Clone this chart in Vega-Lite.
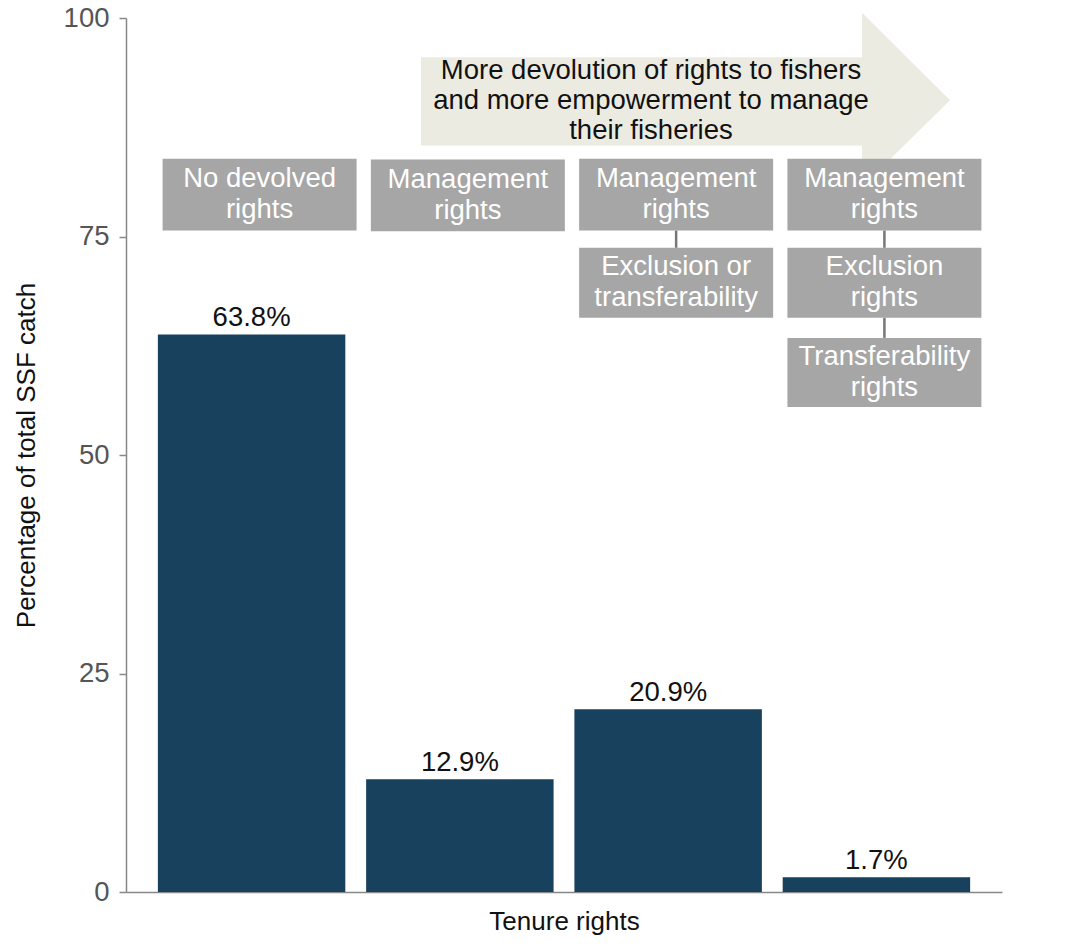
{
  "$schema": "https://vega.github.io/schema/vega-lite/v6.json",
  "description": "Share of small-scale fisheries catch by tenure rights",
  "width": 876,
  "height": 874,
  "autosize": "none",
  "padding": {"left": 126, "top": 18, "right": 78, "bottom": 55},
  "config": {
    "view": {"stroke": null},
    "font": "Liberation Sans",
    "axis": {"grid": false, "domainColor": "#888888", "tickColor": "#888888", "domainWidth": 1.5, "tickWidth": 1.5},
    "axisY": {"labelFontSize": 27.5, "labelColor": "#555555", "titleFontSize": 26, "titleFontWeight": "normal", "titleColor": "#111111", "tickSize": 7, "labelPadding": 10, "titlePadding": 24},
    "axisX": {"titleFontSize": 26, "titleFontWeight": "normal", "titleColor": "#111111", "titlePadding": 16}
  },
  "datasets": {
    "catch": [
      {"tenure": "No devolved rights", "share": 63.8},
      {"tenure": "Management rights", "share": 12.9},
      {"tenure": "Management and exclusion or transferability rights", "share": 20.9},
      {"tenure": "Management, exclusion and transferability rights", "share": 1.7}
    ],
    "boxes": [
      {"tenure": "No devolved rights", "label": "No devolved\nrights", "top": 83.9, "bottom": 75.7},
      {"tenure": "Management rights", "label": "Management\nrights", "top": 83.8, "bottom": 75.6},
      {"tenure": "Management and exclusion or transferability rights", "label": "Management\nrights", "top": 83.9, "bottom": 75.7},
      {"tenure": "Management and exclusion or transferability rights", "label": "Exclusion or\ntransferability", "top": 73.7, "bottom": 65.7},
      {"tenure": "Management, exclusion and transferability rights", "label": "Management\nrights", "top": 83.9, "bottom": 75.7},
      {"tenure": "Management, exclusion and transferability rights", "label": "Exclusion\nrights", "top": 73.7, "bottom": 65.7},
      {"tenure": "Management, exclusion and transferability rights", "label": "Transferability\nrights", "top": 63.4, "bottom": 55.5}
    ],
    "links": [
      {"tenure": "Management and exclusion or transferability rights", "from": 75.7, "to": 73.7},
      {"tenure": "Management, exclusion and transferability rights", "from": 75.7, "to": 73.7},
      {"tenure": "Management, exclusion and transferability rights", "from": 65.7, "to": 63.4}
    ],
    "arrow": [
      {"pos": 1.814, "low": 85.4, "high": 95.5},
      {"pos": 3.929, "low": 85.4, "high": 95.5},
      {"pos": 3.929, "low": 80.7, "high": 100.6},
      {"pos": 4.351, "low": 90.6, "high": 90.6}
    ],
    "arrowText": [
      {"pos": 2.917, "level": 90.5, "text": "More devolution of rights to fishers\nand more empowerment to manage\ntheir fisheries"}
    ]
  },
  "layer": [
    {
      "layer": [
        {
          "data": {"name": "arrow"},
          "mark": {"type": "area", "fill": "#ecebe2", "orient": "vertical", "clip": false},
          "encoding": {
            "x": {"field": "pos", "type": "quantitative", "scale": {"domain": [0.4, 4.6], "nice": false, "zero": false}, "axis": null},
            "y": {"field": "low", "type": "quantitative", "stack": null, "scale": {"domain": [0, 100], "nice": false}, "title": "Percentage of total SSF catch"},
            "y2": {"field": "high"}
          }
        },
        {
          "data": {"name": "arrowText"},
          "mark": {"type": "text", "fontSize": 27.5, "color": "#111111", "lineBreak": "\n", "lineHeight": 30, "baseline": "middle", "align": "center", "dy": -30},
          "encoding": {
            "x": {"field": "pos", "type": "quantitative", "scale": {"domain": [0.4, 4.6], "nice": false, "zero": false}, "axis": null},
            "y": {"field": "level", "type": "quantitative", "scale": {"domain": [0, 100], "nice": false}, "title": "Percentage of total SSF catch"},
            "text": {"field": "text"}
          }
        }
      ]
    },
    {
      "encoding": {
        "x": {
          "field": "tenure",
          "type": "nominal",
          "sort": null,
          "scale": {
            "domain": ["No devolved rights", "Management rights", "Management and exclusion or transferability rights", "Management, exclusion and transferability rights"],
            "paddingInner": 0.1,
            "paddingOuter": 0.153
          },
          "axis": {"labels": false, "ticks": false, "title": "Tenure rights"}
        }
      },
      "layer": [
        {
          "data": {"name": "catch"},
          "mark": {"type": "bar", "color": "#17415d"},
          "encoding": {
            "y": {"field": "share", "type": "quantitative", "scale": {"domain": [0, 100], "nice": false}, "axis": {"values": [0, 25, 50, 75, 100]}, "title": "Percentage of total SSF catch"}
          }
        },
        {
          "data": {"name": "catch"},
          "transform": [{"calculate": "format(datum.share, '.1f') + '%'", "as": "label"}],
          "mark": {"type": "text", "fontSize": 27.5, "color": "#111111", "baseline": "alphabetic", "dy": -8},
          "encoding": {
            "y": {"field": "share", "type": "quantitative", "scale": {"domain": [0, 100], "nice": false}, "title": "Percentage of total SSF catch"},
            "text": {"field": "label"}
          }
        },
        {
          "data": {"name": "links"},
          "mark": {"type": "rule", "color": "#777777", "strokeWidth": 2.5, "xOffset": 8},
          "encoding": {
            "y": {"field": "from", "type": "quantitative", "scale": {"domain": [0, 100], "nice": false}, "title": "Percentage of total SSF catch"},
            "y2": {"field": "to"}
          }
        },
        {
          "data": {"name": "boxes"},
          "mark": {"type": "bar", "color": "#a6a6a6", "width": {"band": 1.035}, "xOffset": 8},
          "encoding": {
            "y": {"field": "top", "type": "quantitative", "scale": {"domain": [0, 100], "nice": false}, "title": "Percentage of total SSF catch"},
            "y2": {"field": "bottom"}
          }
        },
        {
          "data": {"name": "boxes"},
          "transform": [{"calculate": "(datum.top + datum.bottom) / 2", "as": "mid"}],
          "mark": {"type": "text", "fontSize": 27.5, "color": "#ffffff", "lineBreak": "\n", "lineHeight": 31, "baseline": "middle", "align": "center", "dy": -15.5, "xOffset": 8},
          "encoding": {
            "y": {"field": "mid", "type": "quantitative", "scale": {"domain": [0, 100], "nice": false}, "title": "Percentage of total SSF catch"},
            "text": {"field": "label"}
          }
        }
      ]
    }
  ],
  "resolve": {"scale": {"x": "independent"}}
}
